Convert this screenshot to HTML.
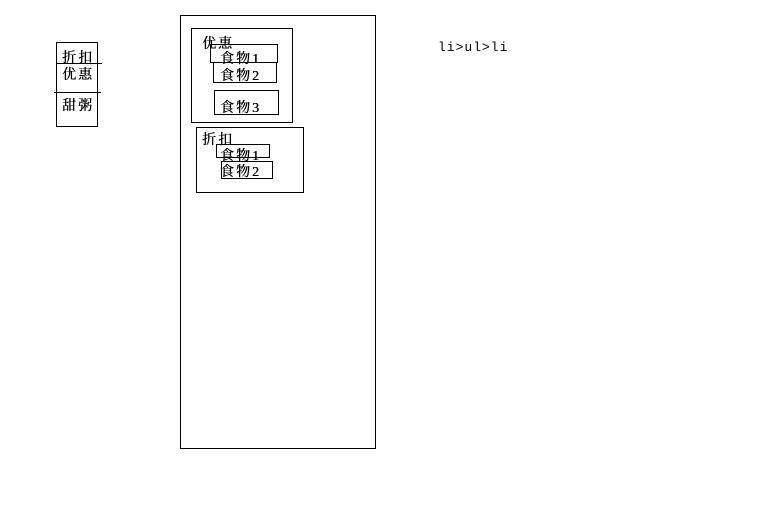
<!DOCTYPE html>
<html><head><meta charset="utf-8"><style>
html,body{margin:0;padding:0;background:#fff;width:765px;height:511px;overflow:hidden;position:relative}
.b{position:absolute;border:1px solid #000;box-sizing:border-box}
.l{position:absolute;height:1px;background:#000}
.t{position:absolute;font-family:"Liberation Serif","Noto Serif CJK SC",serif;font-size:14px;line-height:16px;letter-spacing:2px;color:#000;white-space:nowrap;text-shadow:0.4px 0 0 #000}
</style></head><body>
<div class="b" style="left:56px;top:42px;width:42px;height:85px"></div>
<div class="l" style="left:56px;top:63px;width:46px"></div>
<div class="l" style="left:54px;top:92px;width:47px"></div>
<div class="t" style="left:62px;top:51px">折扣</div>
<div class="t" style="left:62px;top:68px">优惠</div>
<div class="t" style="left:62px;top:99px">甜粥</div>

<div class="b" style="left:180px;top:15px;width:196px;height:434px"></div>
<div class="b" style="left:191px;top:28px;width:102px;height:95px"></div>
<div class="t" style="left:202px;top:37px">优惠</div>
<div class="b" style="left:210px;top:44px;width:68px;height:19px"></div>
<div class="t" style="left:220px;top:52px">食物1</div>
<div class="b" style="left:213px;top:62px;width:64px;height:21px"></div>
<div class="t" style="left:220px;top:69px">食物2</div>
<div class="b" style="left:214px;top:90px;width:65px;height:25px"></div>
<div class="t" style="left:220px;top:101px">食物3</div>

<div class="b" style="left:196px;top:127px;width:108px;height:66px"></div>
<div class="t" style="left:202px;top:133px">折扣</div>
<div class="b" style="left:216px;top:144px;width:54px;height:14px"></div>
<div class="t" style="left:220px;top:149px">食物1</div>
<div class="b" style="left:221px;top:161px;width:52px;height:18px"></div>
<div class="t" style="left:220px;top:165px">食物2</div>

<div style="position:absolute;left:438px;top:40px;font-family:'Liberation Mono',monospace;font-size:13px;line-height:16px;letter-spacing:1px">li&gt;ul&gt;li</div>
</body></html>
